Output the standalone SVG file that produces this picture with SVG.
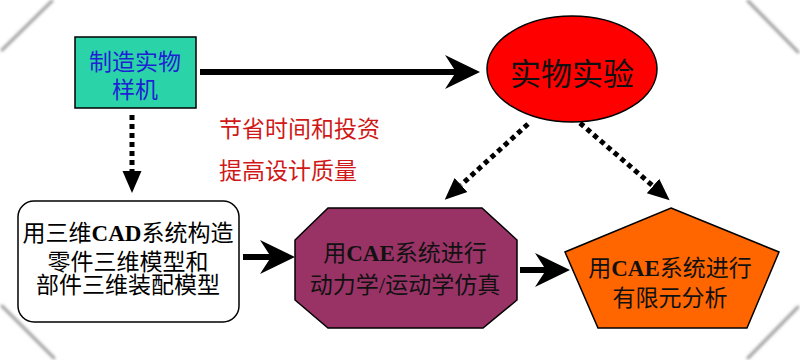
<svg xmlns="http://www.w3.org/2000/svg" width="800" height="360" viewBox="0 0 800 360">
<style>
.cjk{font-family:"Liberation Sans","Noto Sans CJK SC",sans-serif;}
.mix{font-family:"Liberation Serif","Noto Sans CJK SC",serif;}
.b{font-weight:bold;}
.solid{stroke:#000;stroke-width:6;fill:none;}
.dot{stroke:#000;stroke-width:5;fill:none;stroke-dasharray:5 4;}
.shape{stroke:#000;stroke-width:1.5;}
.shadow{stroke:#999;stroke-width:3;fill:none;filter:url(#blur);stroke-linecap:round;}
</style>
<defs>
<filter id="blur" x="-20%" y="-20%" width="140%" height="140%"><feGaussianBlur stdDeviation="1.6"/></filter>
<marker id="stealth" markerUnits="userSpaceOnUse" viewBox="0 -20 40 40" markerWidth="40" markerHeight="40" refX="11" refY="0" orient="auto">
<path d="M0,-17 L35,0 L0,17 L11,0 Z" fill="#000"/>
</marker>
<marker id="tri" markerUnits="userSpaceOnUse" viewBox="0 -12 24 24" markerWidth="24" markerHeight="24" refX="0" refY="0" orient="auto">
<path d="M0,-9.5 L22,0 L0,9.5 Z" fill="#000"/>
</marker>
</defs>
<rect width="800" height="360" fill="#fff"/>
<g id="decor">
<line class="shadow" x1="52" y1="1" x2="2" y2="50"/>
<line class="shadow" x1="748" y1="1" x2="798" y2="52"/>
<line class="shadow" x1="2" y1="306" x2="54" y2="358"/>
<line class="shadow" x1="798" y1="307" x2="748" y2="358"/>
</g>
<g id="connectors">
<line class="solid" x1="200" y1="72" x2="456" y2="72" marker-end="url(#stealth)"/>
<line class="dot" x1="132" y1="115" x2="132" y2="171" marker-end="url(#tri)"/>
<line class="dot" x1="528" y1="124" x2="461" y2="185" marker-end="url(#tri)"/>
<line class="dot" x1="580" y1="123" x2="653" y2="186" marker-end="url(#tri)"/>
<line class="solid" x1="243" y1="257" x2="271" y2="257" marker-end="url(#stealth)"/>
<line class="solid" x1="520" y1="270" x2="546" y2="270" marker-end="url(#stealth)"/>
</g>
<g id="node-prototype">
<rect class="shape" x="75" y="37" width="121" height="71" fill="#2ad4a8"/>
<text class="cjk" font-size="23" fill="#1f1fd4" text-anchor="middle"><tspan x="135" y="70">制造实物</tspan><tspan x="135" y="98">样机</tspan></text>
</g>
<g id="node-test">
<ellipse class="shape" cx="572" cy="69" rx="85" ry="53" fill="#ff0000"/>
<text class="cjk" font-size="31" fill="#111" text-anchor="middle" x="572" y="85">实物实验</text>
</g>
<g id="label-benefits">
<text class="cjk" font-size="23" fill="#d01818"><tspan x="219" y="137">节省时间和投资</tspan><tspan x="219" y="179">提高设计质量</tspan></text>
</g>
<g id="node-cad">
<rect class="shape" x="18" y="201" width="221" height="121" rx="16" fill="#fff"/>
<text class="mix" font-size="23" fill="#000" text-anchor="middle"><tspan x="128" y="241">用三维<tspan class="b">CAD</tspan>系统构造</tspan><tspan x="128" y="270">零件三维模型和</tspan><tspan x="128" y="293">部件三维装配模型</tspan></text>
</g>
<g id="node-dynamics">
<polygon class="shape" points="328,208 482,208 517,240 517,300 483,328 328,328 295,300 295,240" fill="#993366"/>
<text class="mix" font-size="23" fill="#111" text-anchor="middle"><tspan x="405" y="261">用<tspan class="b">CAE</tspan>系统进行</tspan><tspan x="405" y="293">动力学/运动学仿真</tspan></text>
</g>
<g id="node-fea">
<polygon class="shape" points="671,208 779,252 747,328 598,328 565,252" fill="#ff6600"/>
<text class="mix" font-size="23" fill="#111" text-anchor="middle"><tspan x="670" y="276">用<tspan class="b">CAE</tspan>系统进行</tspan><tspan x="670" y="306">有限元分析</tspan></text>
</g>
</svg>
